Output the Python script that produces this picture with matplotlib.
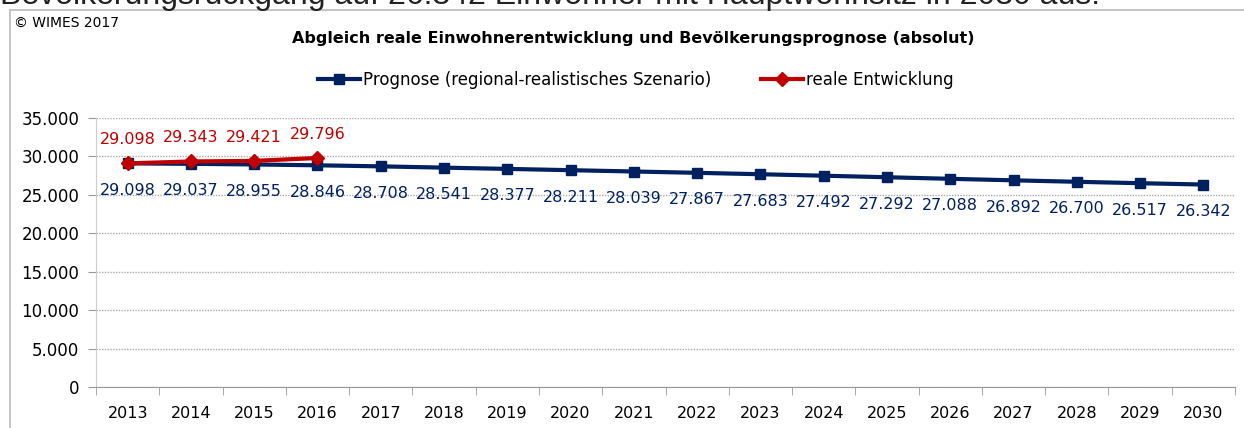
import matplotlib
matplotlib.use("Agg")
import matplotlib.pyplot as plt
from matplotlib.lines import Line2D
from matplotlib.ticker import FuncFormatter

years = [str(y) for y in range(2013, 2031)]
prognose = [29098, 29037, 28955, 28846, 28708, 28541, 28377, 28211, 28039,
            27867, 27683, 27492, 27292, 27088, 26892, 26700, 26517, 26342]
real_years = ["2013", "2014", "2015", "2016"]
real = [29098, 29343, 29421, 29796]

blue = "#002060"
red = "#C00000"

def de_fmt(v, pos=None):
    return f"{int(v):,}".replace(",", ".")

fig = plt.figure(figsize=(12.44, 4.28), dpi=100)
W, H = 1244, 428

# cropped heading line at the very top
fig.text(0.0, 1 - 4 / H, "Bevölkerungsrückgang auf 26.342 Einwohner mit Hauptwohnsitz in 2030 aus.",
         fontsize=23, family="Liberation Sans", va="baseline", ha="left", color="#222222")

# chart frame
fig.add_artist(Line2D([10 / W, 10 / W], [0, 1 - 10 / H], color="#bbbbbb", lw=1.2))
fig.add_artist(Line2D([10 / W, 1], [1 - 10 / H, 1 - 10 / H], color="#bbbbbb", lw=1.2))

fig.text(14 / W, 1 - 23 / H, "© WIMES 2017", fontsize=10, va="center", ha="left")
fig.text(633 / W, 1 - 39 / H, "Abgleich reale Einwohnerentwicklung und Bevölkerungsprognose (absolut)",
         fontsize=11.5, fontweight="bold", va="center", ha="center")

ax = fig.add_axes([96 / W, 1 - 387 / H, (1235 - 96) / W, (387 - 118) / H])
x = list(range(len(years)))
xr = [years.index(y) for y in real_years]

ax.plot(x, prognose, color=blue, lw=3, marker="s", ms=7.5, label="Prognose (regional-realistisches Szenario)", zorder=3)
ax.plot(xr, real, color=red, lw=3, marker="D", ms=7.5, label="reale Entwicklung", zorder=4)

for xi, v in zip(x, prognose):
    ax.annotate(de_fmt(v), (xi, v), xytext=(0, -19.5), textcoords="offset points",
                ha="center", va="center", fontsize=11.5, color=blue)
for xi, v in zip(xr, real):
    ax.annotate(de_fmt(v), (xi, v), xytext=(0, 17), textcoords="offset points",
                ha="center", va="center", fontsize=11.5, color=red)

ax.set_xlim(-0.5, len(years) - 0.5)
ax.set_ylim(0, 35000)
ax.set_yticks(range(0, 35001, 5000))
ax.yaxis.set_major_formatter(FuncFormatter(de_fmt))
ax.set_xticks(x)
ax.set_xticklabels(years)
ax.set_xticks([i - 0.5 for i in range(len(years) + 1)], minor=True)
ax.tick_params(axis="x", which="major", length=0, labelsize=11.5, pad=14)
ax.tick_params(axis="x", which="minor", length=6, color="#999999")
ax.tick_params(axis="y", length=6, color="#999999", labelsize=12, pad=6)
ax.grid(axis="y", color="#aaaaaa", ls=(0, (1, 1)), lw=1)
for s in ["top", "right"]:
    ax.spines[s].set_visible(False)
ax.spines["left"].set_color("#cccccc")
ax.spines["bottom"].set_color("#999999")
ax.set_axisbelow(True)

fig.legend(loc="center", bbox_to_anchor=(636 / W, 1 - 80 / H), ncol=2, frameon=False,
           fontsize=12, handlelength=2.5, columnspacing=3, handletextpad=0.2)

fig.savefig("out.png", dpi=100)
